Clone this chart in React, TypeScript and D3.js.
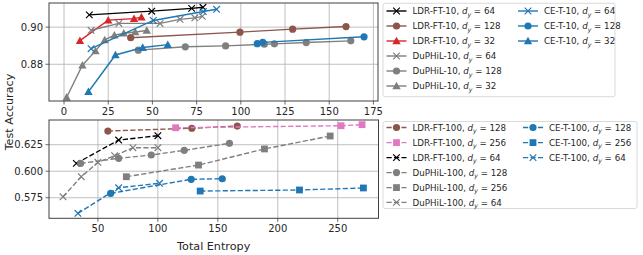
import { useEffect, useRef } from 'react';
import * as d3 from 'd3';

// Two stacked panels: 10-class (top, solid) and 100-class (bottom, dashed) runs,
// test accuracy vs total entropy.

type Pt = [number, number];
type Marker = 'x' | 'o' | '^' | 's';
type Series = { method: string; dy: number; color: string; marker: Marker; pts: Pt[] };

const BLACK = '#000000';
const BROWN = '#8c564b';
const RED = '#d62728';
const GRAY = '#7f7f7f';
const BLUE = '#1f77b4';
const PINK = '#e377c2';

// top panel (10 classes)
const LDR10_64: Pt[] = [[14.3, 0.9066], [49.6, 0.9086], [72.2, 0.9101], [78.6, 0.9107]];
const LDR10_128: Pt[] = [[37.7, 0.8943], [99.5, 0.8973], [129.3, 0.8989], [159.5, 0.9003]];
const LDR10_32: Pt[] = [[9.0, 0.8927], [25.0, 0.9038], [39.6, 0.9046], [43.8, 0.9054]];
const DUP10_64: Pt[] = [[15.3, 0.8983], [31.0, 0.902], [54.3, 0.902], [65.6, 0.9042], [74.0, 0.905], [78.2, 0.9058]];
const DUP10_128: Pt[] = [[42.0, 0.8876], [68.6, 0.8894], [91.4, 0.8899], [113.3, 0.8908], [119.0, 0.891], [137.0, 0.8917], [162.2, 0.8926]];
const DUP10_32: Pt[] = [[1.5, 0.8622], [10.4, 0.8795], [17.8, 0.8872], [23.0, 0.8931], [28.5, 0.8957], [33.8, 0.8967], [40.3, 0.8974], [46.8, 0.8982]];
const CE10_64: Pt[] = [[15.3, 0.8884], [50.5, 0.9036], [78.8, 0.9084], [86.3, 0.9096]];
const CE10_128: Pt[] = [[109.3, 0.8911], [112.4, 0.8918], [169.7, 0.8948]];
const CE10_32: Pt[] = [[13.8, 0.8652], [29.1, 0.885], [44.5, 0.889], [58.7, 0.8906]];

// bottom panel (100 classes)
const LDR100_128: Pt[] = [[58.3, 0.6379], [128.3, 0.6405], [166.2, 0.6426]];
const LDR100_256: Pt[] = [[114.8, 0.641], [252.8, 0.6429], [270.3, 0.6439]];
const LDR100_64: Pt[] = [[32.0, 0.6074], [67.3, 0.6294], [100.0, 0.6335]];
const DUP100_128: Pt[] = [[35.6, 0.6074], [67.3, 0.6122], [94.5, 0.6153], [122.0, 0.6197], [159.7, 0.6263]];
const DUP100_256: Pt[] = [[73.7, 0.5948], [133.9, 0.6058], [188.9, 0.621], [243.7, 0.6332]];
const DUP100_64: Pt[] = [[20.9, 0.5759], [36.1, 0.5948], [50.0, 0.6084], [63.9, 0.6146], [79.2, 0.6222], [100.0, 0.6222]];
const CE100_128: Pt[] = [[60.6, 0.5791], [127.8, 0.5924], [153.7, 0.5929]];
const CE100_256: Pt[] = [[135.3, 0.5813], [218.1, 0.5823], [271.4, 0.5842]];
const CE100_64: Pt[] = [[33.3, 0.5603], [67.3, 0.5844], [101.4, 0.5886]];

const TOP_SERIES: Series[] = [
  { method: 'LDR-FT-10', dy: 64, color: BLACK, marker: 'x', pts: LDR10_64 },
  { method: 'LDR-FT-10', dy: 128, color: BROWN, marker: 'o', pts: LDR10_128 },
  { method: 'LDR-FT-10', dy: 32, color: RED, marker: '^', pts: LDR10_32 },
  { method: 'DuPHiL-10', dy: 64, color: GRAY, marker: 'x', pts: DUP10_64 },
  { method: 'DuPHiL-10', dy: 128, color: GRAY, marker: 'o', pts: DUP10_128 },
  { method: 'DuPHiL-10', dy: 32, color: GRAY, marker: '^', pts: DUP10_32 },
  { method: 'CE-T-10', dy: 64, color: BLUE, marker: 'x', pts: CE10_64 },
  { method: 'CE-T-10', dy: 128, color: BLUE, marker: 'o', pts: CE10_128 },
  { method: 'CE-T-10', dy: 32, color: BLUE, marker: '^', pts: CE10_32 },
];

const BOTTOM_SERIES: Series[] = [
  { method: 'LDR-FT-100', dy: 128, color: BROWN, marker: 'o', pts: LDR100_128 },
  { method: 'LDR-FT-100', dy: 256, color: PINK, marker: 's', pts: LDR100_256 },
  { method: 'LDR-FT-100', dy: 64, color: BLACK, marker: 'x', pts: LDR100_64 },
  { method: 'DuPHiL-100', dy: 128, color: GRAY, marker: 'o', pts: DUP100_128 },
  { method: 'DuPHiL-100', dy: 256, color: GRAY, marker: 's', pts: DUP100_256 },
  { method: 'DuPHiL-100', dy: 64, color: GRAY, marker: 'x', pts: DUP100_64 },
  { method: 'CE-T-100', dy: 128, color: BLUE, marker: 'o', pts: CE100_128 },
  { method: 'CE-T-100', dy: 256, color: BLUE, marker: 's', pts: CE100_256 },
  { method: 'CE-T-100', dy: 64, color: BLUE, marker: 'x', pts: CE100_64 },
];

const TOP_XTICKS = [0, 25, 50, 75, 100, 125, 150, 175];
const TOP_YTICKS = [0.88, 0.9];
const BOTTOM_XTICKS = [50, 100, 150, 200, 250];
const BOTTOM_YTICKS = [0.575, 0.6, 0.625];

const FONT = '"DejaVu Sans", sans-serif';
const W = 643;
const H = 255;

type G = d3.Selection<SVGGElement, unknown, null, undefined>;

function drawMarker(g: G, m: Marker, x: number, y: number, color: string) {
  if (m === 'x') {
    const s = 3.3;
    g.append('path')
      .attr('d', `M${x - s},${y - s}L${x + s},${y + s}M${x - s},${y + s}L${x + s},${y - s}`)
      .attr('stroke', color).attr('stroke-width', 1.2).attr('fill', 'none');
  } else if (m === 'o') {
    g.append('circle').attr('cx', x).attr('cy', y).attr('r', 3.6).attr('fill', color);
  } else if (m === 's') {
    g.append('rect').attr('x', x - 3.4).attr('y', y - 3.4).attr('width', 6.8).attr('height', 6.8).attr('fill', color);
  } else {
    const s = 4.2;
    g.append('path')
      .attr('d', `M${x},${y - s}L${x + s},${y + s * 0.8}L${x - s},${y + s * 0.8}Z`)
      .attr('fill', color);
  }
}

function drawPanel(
  root: G,
  series: Series[],
  xScale: d3.ScaleLinear<number, number>,
  yScale: d3.ScaleLinear<number, number>,
  xTicks: number[],
  yTicks: number[],
  yFmt: (v: number) => string,
  dashed: boolean,
) {
  const [x0, x1] = xScale.range();
  const [y1, y0] = yScale.range();
  const g = root.append('g');

  // grid
  for (const t of xTicks) {
    g.append('line').attr('x1', xScale(t)).attr('x2', xScale(t)).attr('y1', y0).attr('y2', y1)
      .attr('stroke', '#b0b0b0').attr('stroke-width', 0.8);
  }
  for (const t of yTicks) {
    g.append('line').attr('x1', x0).attr('x2', x1).attr('y1', yScale(t)).attr('y2', yScale(t))
      .attr('stroke', '#b0b0b0').attr('stroke-width', 0.8);
  }

  const clipId = `clip-${Math.round(y0)}`;
  root.append('clipPath').attr('id', clipId)
    .append('rect').attr('x', x0).attr('y', y0).attr('width', x1 - x0).attr('height', y1 - y0);
  const plot = g.append('g').attr('clip-path', `url(#${clipId})`);

  const line = d3.line<Pt>().x((p) => xScale(p[0])).y((p) => yScale(p[1]));
  for (const s of series) {
    plot.append('path').datum(s.pts).attr('d', line)
      .attr('fill', 'none').attr('stroke', s.color).attr('stroke-width', 1.4)
      .attr('stroke-dasharray', dashed ? '5.2,2.3' : null);
    for (const p of s.pts) drawMarker(plot, s.marker, xScale(p[0]), yScale(p[1]), s.color);
  }

  // frame
  g.append('rect').attr('x', x0).attr('y', y0).attr('width', x1 - x0).attr('height', y1 - y0)
    .attr('fill', 'none').attr('stroke', '#404040').attr('stroke-width', 1);

  // ticks + labels
  for (const t of xTicks) {
    const x = xScale(t);
    g.append('line').attr('x1', x).attr('x2', x).attr('y1', y1).attr('y2', y1 + 3.5)
      .attr('stroke', '#404040').attr('stroke-width', 0.8);
    g.append('text').attr('x', x).attr('y', y1 + 6.5).attr('dy', '0.76em')
      .attr('text-anchor', 'middle').attr('font-size', 10).attr('font-family', FONT)
      .attr('fill', '#262626').text(String(t));
  }
  for (const t of yTicks) {
    const y = yScale(t);
    g.append('line').attr('x1', x0 - 3.5).attr('x2', x0).attr('y1', y).attr('y2', y)
      .attr('stroke', '#404040').attr('stroke-width', 0.8);
    g.append('text').attr('x', x0 - 6).attr('y', y).attr('dy', '0.36em')
      .attr('text-anchor', 'end').attr('font-size', 10).attr('font-family', FONT)
      .attr('fill', '#262626').text(yFmt(t));
  }
}

function drawLegend(root: G, series: Series[], box: { x: number; y: number; w: number; h: number },
  rowY: number[], col2X: number, dashed: boolean) {
  const g = root.append('g');
  g.append('rect').attr('x', box.x).attr('y', box.y).attr('width', box.w).attr('height', box.h)
    .attr('rx', 2).attr('fill', '#ffffff').attr('fill-opacity', 0.85)
    .attr('stroke', '#d0d0d0').attr('stroke-width', 0.8);
  series.forEach((s, i) => {
    const col = i < 6 ? 0 : 1;
    const row = i < 6 ? i : i - 6;
    const hx = col === 0 ? box.x + 3.5 : col2X;
    const y = rowY[row];
    g.append('line').attr('x1', hx).attr('x2', hx + 20).attr('y1', y).attr('y2', y)
      .attr('stroke', s.color).attr('stroke-width', 1.4)
      .attr('stroke-dasharray', dashed ? '5.2,2.3' : null);
    drawMarker(g, s.marker, hx + 10, y, s.color);
    const t = g.append('text').attr('x', hx + 26).attr('y', y + 3.3)
      .attr('font-size', 8.7).attr('font-family', FONT).attr('fill', '#262626');
    t.append('tspan').text(`${s.method}, `);
    t.append('tspan').attr('font-style', 'italic').text('d');
    t.append('tspan').attr('font-style', 'italic').attr('font-size', 6.2).attr('dy', 2.2).text('y');
    t.append('tspan').attr('dy', -2.2).text(` = ${s.dy}`);
  });
}

export default function App() {
  const svgRef = useRef<SVGSVGElement>(null);

  useEffect(() => {
    const svg = d3.select(svgRef.current);
    svg.selectAll('*').remove();
    const root = svg.append('g') as unknown as G;

    const xTop = d3.scaleLinear().domain([-8.5, 177.6]).range([49, 378]);
    const yTop = d3.scaleLinear().domain([0.8602, 0.913]).range([101, 3]);
    const xBot = d3.scaleLinear().domain([9.2, 284]).range([49, 378.5]);
    const yBot = d3.scaleLinear().domain([0.5556, 0.6483]).range([218.3, 120]);

    drawPanel(root, TOP_SERIES, xTop, yTop, TOP_XTICKS, TOP_YTICKS, d3.format('.2f'), false);
    drawPanel(root, BOTTOM_SERIES, xBot, yBot, BOTTOM_XTICKS, BOTTOM_YTICKS, d3.format('.3f'), true);

    drawLegend(root, TOP_SERIES, { x: 383, y: 3.3, w: 232, h: 93.4 }, [11, 26, 41, 56, 71, 86], 518, false);
    drawLegend(root, BOTTOM_SERIES, { x: 383, y: 121.5, w: 254, h: 87 },
      [127.5, 142.6, 157.6, 172.6, 187.6, 202.4], 523, true);

    // axis titles
    root.append('text').attr('x', 213.7).attr('y', 250).attr('text-anchor', 'middle')
      .attr('font-size', 11.2).attr('font-family', FONT).attr('fill', '#262626').text('Total Entropy');
    root.append('text').attr('transform', 'translate(12.8,112) rotate(-90)').attr('text-anchor', 'middle')
      .attr('font-size', 11.2).attr('font-family', FONT).attr('fill', '#262626').text('Test Accuracy');
  }, []);

  return (
    <div style={{ position: 'absolute', left: 0, top: 0, width: W, height: H, background: '#fff' }}>
      <svg ref={svgRef} width={W} height={H} style={{ display: 'block' }} />
    </div>
  );
}
